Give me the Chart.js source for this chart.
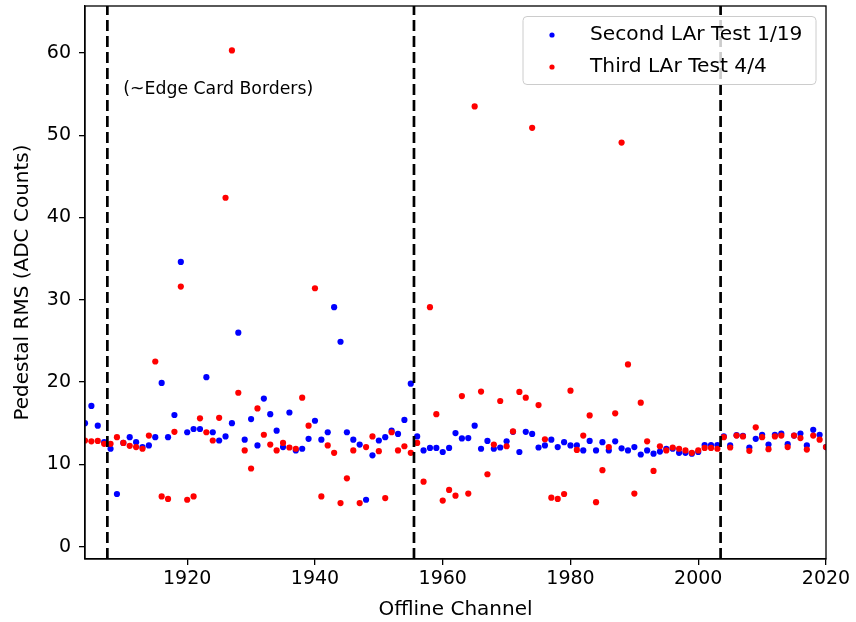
<!DOCTYPE html>
<html>
<head>
<meta charset="utf-8">
<title>Pedestal RMS per Offline Channel</title>
<script src="https://cdn.jsdelivr.net/npm/chart.js@4/dist/chart.umd.min.js"></script>
<style>
  html, body { margin: 0; padding: 0; background: #ffffff; }
  canvas { display: block; }
</style>
</head>
<body>
<canvas id="rmsChart" width="856" height="622"></canvas>
<script>
// Offline channels read out in both LAr tests
const channels = [
  1904, 1905, 1906, 1907, 1908, 1909, 1910, 1911, 1912, 1913,
  1914, 1915, 1916, 1917, 1918, 1919, 1920, 1921, 1922, 1923,
  1924, 1925, 1926, 1927, 1928, 1929, 1930, 1931, 1932, 1933,
  1934, 1935, 1936, 1937, 1938, 1939, 1940, 1941, 1942, 1943,
  1944, 1945, 1946, 1947, 1948, 1949, 1950, 1951, 1952, 1953,
  1954, 1955, 1956, 1957, 1958, 1959, 1960, 1961, 1962, 1963,
  1964, 1965, 1966, 1967, 1968, 1969, 1970, 1971, 1972, 1973,
  1974, 1975, 1976, 1977, 1978, 1979, 1980, 1981, 1982, 1983,
  1984, 1985, 1986, 1987, 1988, 1989, 1990, 1991, 1992, 1993,
  1994, 1995, 1996, 1997, 1998, 1999, 2000, 2001, 2002, 2003,
  2004, 2005, 2006, 2007, 2008, 2009, 2010, 2011, 2012, 2013,
  2014, 2015, 2016, 2017, 2018, 2019, 2020
];

// Pedestal RMS (ADC counts), second LAr test 1/19
const secondTestRms = [
  15.0, 17.1, 14.7, 12.7, 11.9, 6.4, 12.6, 13.3, 12.7, 12.1,
  12.3, 13.3, 19.9, 13.3, 16.0, 34.6, 13.9, 14.3, 14.3, 20.6,
  13.9, 12.9, 13.4, 15.0, 26.0, 13.0, 15.5, 12.3, 18.0, 16.1,
  14.1, 12.1, 16.3, 11.7, 11.9, 13.1, 15.3, 13.0, 13.9, 29.1,
  24.9, 13.9, 13.0, 12.4, 5.7, 11.1, 12.9, 13.3, 14.1, 13.7,
  15.4, 19.8, 13.4, 11.7, 12.0, 12.0, 11.5, 12.0, 13.8, 13.15,
  13.2, 14.7, 11.9, 12.85, 11.9, 12.05, 12.8, 13.95, 11.5, 13.95,
  13.7, 12.05, 12.3, 13.0, 12.1, 12.7, 12.3, 12.3, 11.7, 12.85,
  11.7, 12.7, 11.7, 12.8, 11.95, 11.7, 12.1, 11.2, 11.7, 11.3,
  11.55, 11.9, 11.9, 11.4, 11.4, 11.3, 11.5, 12.35, 12.35, 12.35,
  13.4, 12.3, 13.55, 13.45, 12.05, 13.1, 13.6, 12.4, 13.6, 13.75,
  12.45, 13.5, 13.75, 12.3, 14.2, 13.6, 12.1
];

// Pedestal RMS (ADC counts), third LAr test 4/4
const thirdTestRms = [
  12.9, 12.8, 12.85, 12.5, 12.5, 13.3, 12.6, 12.25, 12.1, 11.9,
  13.5, 22.5, 6.1, 5.8, 13.95, 31.6, 5.7, 6.1, 15.6, 13.9,
  12.9, 15.65, 42.4, 60.3, 18.7, 11.7, 9.5, 16.8, 13.6, 12.4,
  11.7, 12.6, 12.05, 11.9, 18.1, 14.7, 31.4, 6.1, 12.3, 11.4,
  5.3, 8.3, 11.7, 5.3, 12.1, 13.4, 11.6, 5.9, 13.9, 11.7,
  12.2, 11.4, 12.6, 7.9, 29.1, 16.1, 5.6, 6.9, 6.2, 18.3,
  6.45, 53.5, 18.85, 8.8, 12.4, 17.7, 12.2, 14.0, 18.8, 18.1,
  50.9, 17.2, 13.05, 5.95, 5.8, 6.4, 18.95, 11.75, 13.5, 15.95,
  5.4, 9.3, 12.1, 16.2, 49.1, 22.15, 6.45, 17.5, 12.8, 9.2,
  12.2, 11.7, 12.05, 11.9, 11.7, 11.4, 11.7, 12.0, 12.0, 11.9,
  13.3, 12.05, 13.5, 13.4, 11.65, 14.5, 13.3, 11.85, 13.4, 13.5,
  12.1, 13.5, 13.2, 11.8, 13.5, 13.0, 12.1
];

// Approximate edge-card borders (between channels)
const cardBorders = [1907.5, 1955.5, 2003.5];

// Axis ranges and tick labels
const xRange = [1904, 2020];
const yRange = [-1.5, 65.7];
const xTicks = [1920, 1940, 1960, 1980, 2000, 2020];
const yTicks = [0, 10, 20, 30, 40, 50, 60];

const seriesNames = ['Second LAr Test 1/19', 'Third LAr Test 4/4'];
const seriesColors = ['#0000ff', '#ff0000'];
const borderNote = '(~Edge Card Borders)';
const borderNoteAt = { x: 1910, y: 55 };

const FONT = "'DejaVu Sans', 'Liberation Sans', sans-serif";
Chart.defaults.font.family = FONT;
Chart.defaults.color = '#000000';

const toPoints = (values) => channels.map((ch, i) => ({ x: ch, y: values[i] }));

const scatterSets = [secondTestRms, thirdTestRms].map((values, i) => ({
  type: 'scatter',
  label: seriesNames[i],
  data: toPoints(values),
  backgroundColor: seriesColors[i],
  borderWidth: 0,
  pointRadius: 3.1,
  pointHoverRadius: 3.1,
  order: 2 - i
}));

const borderSets = cardBorders.map((ch) => ({
  type: 'line',
  label: 'border ' + ch,
  data: [{ x: ch, y: yRange[0] }, { x: ch, y: yRange[1] }],
  borderColor: '#000000',
  borderWidth: 2.7,
  borderDash: [11, 5],
  pointRadius: 0,
  fill: false,
  order: 0
}));

// Plot frame, box-style legend and the border annotation
const framePlugin = {
  id: 'frameAndNotes',
  afterDatasetsDraw(chart) {
    const { ctx, chartArea: a, scales } = chart;
    ctx.save();
    ctx.font = '17.3px ' + FONT;
    ctx.fillStyle = '#000000';
    ctx.textAlign = 'left';
    ctx.textBaseline = 'alphabetic';
    ctx.fillText(borderNote,
      scales.x.getPixelForValue(borderNoteAt.x),
      scales.y.getPixelForValue(borderNoteAt.y));
    ctx.strokeStyle = '#000000';
    ctx.lineWidth = 1.3;
    ctx.strokeRect(a.left, a.top, a.right - a.left, a.bottom - a.top);
    ctx.restore();
  },
  afterDraw(chart) {
    const { ctx, chartArea: a } = chart;
    const w = 293, h = 68;
    const x0 = a.right - 10 - w, y0 = a.top + 10.5;
    ctx.save();
    ctx.beginPath();
    ctx.roundRect(x0, y0, w, h, 4);
    ctx.fillStyle = 'rgba(255,255,255,0.8)';
    ctx.fill();
    ctx.strokeStyle = '#cccccc';
    ctx.lineWidth = 1;
    ctx.stroke();
    ctx.font = '20.2px ' + FONT;
    ctx.textAlign = 'left';
    ctx.textBaseline = 'middle';
    seriesNames.forEach((name, i) => {
      const cy = y0 + 18.5 + i * 32;
      ctx.beginPath();
      ctx.arc(x0 + 29, cy, 2.6, 0, Math.PI * 2);
      ctx.fillStyle = seriesColors[i];
      ctx.fill();
      ctx.fillStyle = '#000000';
      ctx.fillText(name, x0 + 67, cy);
    });
    ctx.restore();
  }
};

const tickGrid = {
  display: true,
  drawOnChartArea: false,
  drawTicks: true,
  tickLength: 6,
  color: '#000000',
  lineWidth: 1.3
};

new Chart(document.getElementById('rmsChart'), {
  type: 'scatter',
  data: { datasets: [...scatterSets, ...borderSets] },
  options: {
    responsive: false,
    animation: false,
    devicePixelRatio: 1,
    layout: { padding: { top: 6, right: 30, bottom: 0, left: 0 } },
    plugins: {
      legend: { display: false },
      tooltip: { enabled: false }
    },
    events: [],
    scales: {
      x: {
        type: 'linear',
        min: xRange[0],
        max: xRange[1],
        grid: tickGrid,
        border: { display: true, color: '#000000', width: 1.3 },
        afterBuildTicks: (scale) => { scale.ticks = xTicks.map((v) => ({ value: v })); },
        afterFit: (scale) => { scale.height = 63; scale.paddingLeft = 0; scale.paddingRight = 0; },
        ticks: {
          autoSkip: false,
          maxRotation: 0,
          padding: 3,
          color: '#000000',
          font: { size: 19 },
          callback: (v) => String(v)
        },
        title: {
          display: true,
          text: 'Offline Channel',
          color: '#000000',
          font: { size: 20 },
          padding: { top: 0, bottom: 0 }
        }
      },
      y: {
        type: 'linear',
        min: yRange[0],
        max: yRange[1],
        grid: tickGrid,
        border: { display: true, color: '#000000', width: 1.3 },
        afterBuildTicks: (scale) => { scale.ticks = yTicks.map((v) => ({ value: v })); },
        afterFit: (scale) => { scale.width = 85; scale.paddingTop = 0; scale.paddingBottom = 0; },
        ticks: {
          padding: 8,
          color: '#000000',
          font: { size: 19 },
          callback: (v) => String(v)
        },
        title: {
          display: true,
          text: 'Pedestal RMS (ADC Counts)',
          color: '#000000',
          font: { size: 20 },
          padding: { top: 11, bottom: 0 }
        }
      }
    }
  },
  plugins: [framePlugin]
});
</script>
</body>
</html>
